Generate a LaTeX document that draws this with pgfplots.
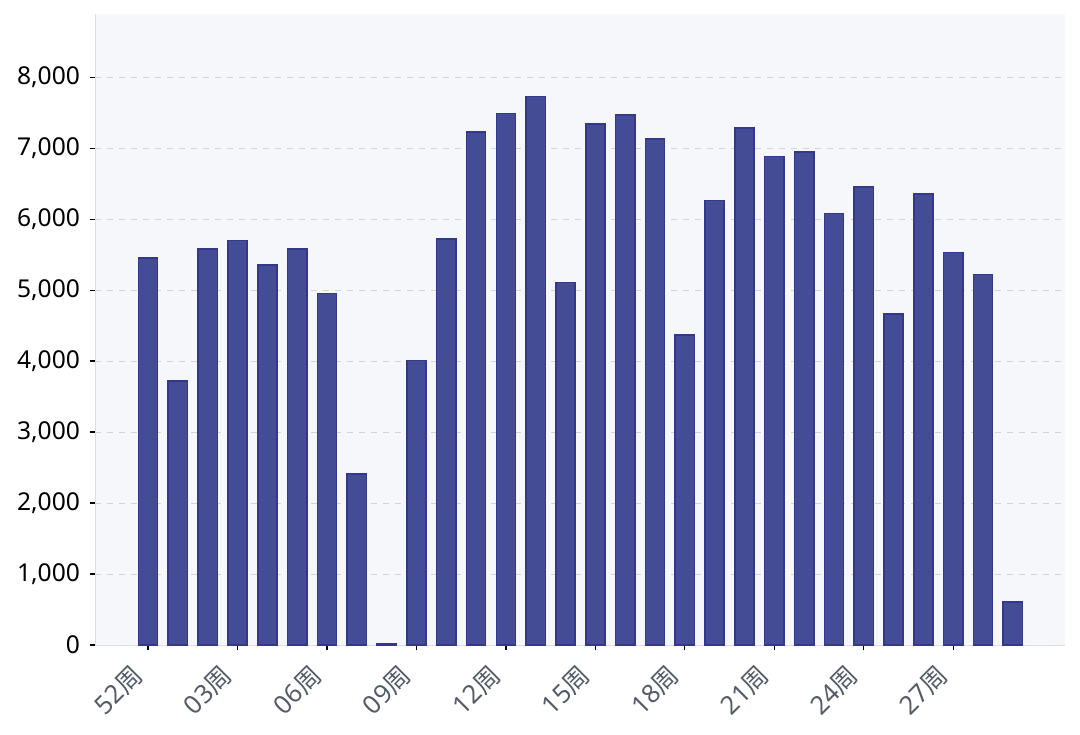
\documentclass[border=0pt]{standalone}
\usepackage{pgfplots}
\pgfplotsset{compat=1.18}
\usepackage{fontspec}
\setmainfont{Noto Sans}
\newfontfamily\cjk{Noto Sans CJK SC}
\newcommand\zhou{{\cjk 周}}
\definecolor{barfill}{RGB}{68,76,150}
\definecolor{baredge}{RGB}{52,56,138}
\definecolor{bgc}{RGB}{245,247,250}
\definecolor{xlab}{RGB}{85,92,105}
\begin{document}
\begin{tikzpicture}
\begin{axis}[
  name=main,
  scale only axis,
  width=485pt, height=315.5pt,
  xmin=-1.78, xmax=30.75,
  ymin=0, ymax=8890,
  axis background/.style={fill=bgc},
  axis x line*=bottom, axis y line*=left,
  axis line style={draw=black!13},
  tick align=outside,
  major tick length=2.5pt,
  tick style={black, line width=0.6pt},
  xtick={0,3,...,27},
  xticklabels={52\zhou,03\zhou,06\zhou,09\zhou,12\zhou,15\zhou,18\zhou,21\zhou,24\zhou,27\zhou},
  x tick label style={rotate=45, anchor=north east, font=\fontsize{12.8}{13}\selectfont, text=xlab, inner sep=1pt, xshift=-9.8pt, yshift=3pt},
  ytick={0,1000,...,8000},
  y tick label style={font=\fontsize{12.3}{13}\selectfont, text=black, xshift=-1.5pt},
  /pgf/number format/.cd, 1000 sep={,}, assume math mode=true,
  /pgfplots/.cd,
  ymajorgrids,
  major grid style={dashed, black!17, line width=0.5pt},
  ybar, bar width=9.6pt,
]
\addplot[fill=barfill, draw=baredge, line width=0.8pt] coordinates {
(0,5450) (1,3720) (2,5580) (3,5700) (4,5350) (5,5580) (6,4950) (7,2410)
(8,20) (9,4010) (10,5720) (11,7230) (12,7490) (13,7730) (14,5110) (15,7340)
(16,7470) (17,7130) (18,4370) (19,6260) (20,7280) (21,6880) (22,6950) (23,6080)
(24,6450) (25,4660) (26,6350) (27,5530) (28,5220) (29,610)
};
\end{axis}
\pgfresetboundingbox
\path (main.south west) ++(-47.5pt,-44.5pt) coordinate (bl);
\path (main.north east) ++(7.5pt,7pt) coordinate (tr);
\path (bl) rectangle (tr);
\end{tikzpicture}
\end{document}
